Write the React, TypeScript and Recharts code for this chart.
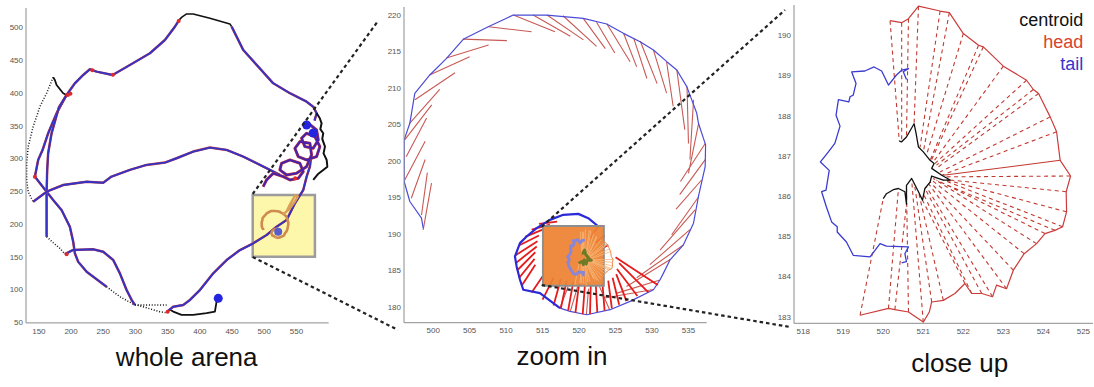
import React from 'react';
import { ComposedChart, Line, XAxis, YAxis, ReferenceArea, Scatter } from 'recharts';

type Pt = [number, number];
type Seg = [number, number, number, number];

const FONT = '"Liberation Sans", Arial, Helvetica, sans-serif';

// ---- panel 1: whole arena ----
const P1_X_TICKS = [150, 200, 250, 300, 350, 400, 450, 500, 550];
const P1_Y_TICKS = [50, 100, 150, 200, 250, 300, 350, 400, 450, 500];

const P1_TOP_ARC: Pt[] = [[193.0, 397.2], [205.9, 415.0], [218.8, 427.7], [229.2, 436.4], [239.6, 432.8], [264.5, 427.7], [291.3, 443.0], [322.4, 460.9], [345.7, 481.2], [361.2, 501.5], [367.9, 511.8]];
const P1_TOP_BLACK: Pt[] = [[367.9, 511.8], [372, 516], [379.4, 520.9], [389.6, 520.9], [415.6, 514.4], [446.6, 505.7], [449.3, 501.5]];
const P1_RIGHT_ARC: Pt[] = [[449.3, 501.5], [457.0, 486.2], [467.3, 465.9], [488.1, 443.0], [513.9, 415.0], [539.8, 399.8], [565.7, 386.9], [575.9, 379.3], [581.3, 369.2], [578, 358]];
const P1_RIGHT_BLACK: Pt[] = [[581.3, 369.2], [586, 362], [589.0, 353.9], [587, 345], [591.5, 338.6], [590, 330], [594.2, 318.2], [592, 308], [596.8, 297.9], [598, 287.6], [591.5, 282.6], [583, 276], [576.0, 267.4]];
const P1_LOOPS: Pt[] = [[568.2, 353.9], [581.2, 343.7], [583.8, 328.5], [576.0, 315.7], [563.0, 318.3], [557.9, 331.0], [565.6, 338.6], [578.6, 333.6], [586.3, 318.3], [581.2, 303.0], [565.6, 297.9], [552.7, 303.0], [547.5, 315.7], [555.3, 325.9], [570.8, 323.4], [573.4, 305.6], [565.6, 287.7], [550.1, 277.6], [534.6, 275.0], [524.2, 282.7], [526.8, 292.8], [539.8, 297.9], [555.3, 292.8], [560.5, 280.1], [552.7, 269.9], [539.8, 267.4], [529.4, 272.5], [513.9, 277.6], [503.5, 267.4], [498.3, 257.2]];
const P1_MID: Pt[] = [[141.1, 234.1], [162.0, 249.4], [187.7, 259.6], [224.1, 264.7], [249.9, 263.1], [262.8, 272.5], [291.3, 282.7], [317.2, 290.3], [345.6, 293.9], [363.8, 300.5], [389.6, 310.7], [415.5, 316.8], [441.4, 313.2], [467.3, 303.0], [493.2, 290.3], [508.7, 282.7], [524.2, 275.0]];
const P1_LEFT_DOTTED: Pt[] = [[172.2, 424.2], [162.0, 399.8], [151.6, 379.3], [141.1, 348.7], [133.4, 318.2], [131, 292.8], [131, 267.3], [133.4, 249.4], [141.1, 234.1]];
const P1_LEFT_BLACK: Pt[] = [[172.2, 424.2], [174.8, 420.1], [177.5, 412.4], [187.7, 399.8], [193, 397.2]];
const P1_LINE_A: Pt[] = [[193, 397.2], [177.5, 369.2], [164.4, 338.6], [155.7, 313.1], [148.9, 297.9], [143.8, 272.3], [162.0, 249.4], [172.2, 236.7], [185.2, 221.4], [198.1, 195.9], [203.3, 172.9], [205.9, 155.3], [211.0, 142.4], [224.1, 127.2], [255.1, 104.2]];
const P1_A_DOTTED: Pt[] = [[255.1, 104.2], [275.8, 89.0], [296.5, 77.8], [317.3, 72], [337.9, 66.0], [348.3, 64.5]];
const P1_LINE_B: Pt[] = [[193, 397.2], [181, 378], [169.7, 338.6], [164.4, 308.1], [162.9, 282.6], [162.0, 249.4], [162.0, 180.6]];
const P1_B_DOTTED: Pt[] = [[162.0, 180.6], [172.2, 171.5], [182.6, 162.9], [190.4, 154.2]];
const P1_LOW: Pt[] = [[190.4, 154.2], [203.3, 160.4], [234.3, 161.4], [249.9, 157.7], [265.4, 145.0], [275.8, 124.7], [286.2, 99.2], [294.0, 84.1], [299.1, 76.3]];
const P1_FLAT_DOTTED: Pt[] = [[299.1, 76.3], [348.3, 76.3]];
const P1_BOTTOM_BLACK: Pt[] = [[352, 70], [358.6, 66.3], [371.5, 61.3], [389.6, 61.3], [410.4, 63.8], [423.3, 66.3], [425.9, 81.6], [428.5, 86.5]];
const P1_BOTTOM_RIGHT: Pt[] = [[348.3, 65.5], [358.6, 73.7], [374.1, 76.3], [384.5, 84.0], [400.0, 99.2], [420.7, 124.7], [441.5, 145.0], [462.2, 160.3], [482.8, 170.6], [503.6, 183.2], [519.1, 195.9], [534.6, 206.1], [547.6, 231.7], [560.5, 252.0], [565.7, 272.3], [570.8, 287.6], [573, 305]];
const P1_BOX_ARMS: Pt[] = [[528, 214], [538, 222], [546, 232], [552, 242], [548, 244], [540, 230], [535, 220]];
const P1_RED_MARKS: Pt[] = [[195, 397], [199, 399], [233, 435], [265, 428], [143.8, 272.3], [193, 154], [367, 510], [350, 66], [548, 270]];
const P1_BLUE_DOTS: Pt[] = [[565.7, 351.3], [575.9, 339], [428.5, 86.5]];
const P1_BOX_BLOB: Pt[] = [[521.6, 188.3]];
const P1_BOX = { x1: 482, x2: 578.6, y1: 150.1, y2: 244.4 };

// ---- panel 2: zoom in ----
const P2_X_TICKS = [500, 505, 510, 515, 520, 525, 530, 535];
const P2_Y_TICKS = [180, 185, 190, 195, 200, 205, 210, 215, 220];

const P2_OUTER: Pt[] = [[498.63, 190.8], [498.4, 192.17], [496.8, 194.45], [496.02, 197.19], [496.02, 202.89], [496.8, 205.17], [497.48, 209.28], [499.54, 211.79], [501.83, 214.07], [504.12, 216.67], [507.55, 218.4], [510.98, 220.0], [515.56, 220.0], [520.59, 219.54], [523.79, 218.77], [526.08, 217.49], [528.37, 216.35], [530.2, 215.21], [532.03, 213.61], [533.4, 212.47], [534.77, 210.19], [536.14, 206.54], [536.37, 205.17], [537.35, 202.21], [537.29, 199.24], [536.37, 195.14], [535.69, 191.49], [534.31, 188.52], [532.48, 186.47], [531.57, 184.64], [531.11, 183.73], [530.2, 182.36], [527.0, 180.77], [524.25, 179.63], [521.05, 178.94], [518.76, 179.4], [517.39, 179.85]];
const P2_INNER: Pt[] = [[517.39, 179.85], [514.64, 181.91], [512.35, 182.36], [511.9, 183.73], [511.44, 185.56], [511.21, 186.93], [511.9, 188.75], [512.81, 189.66], [514.18, 190.8], [516.01, 191.94], [517.84, 192.63], [519.9, 192.76], [521.27, 192.17], [522.65, 191.03]];
const P2_STICKS: Seg[] = [
  [498.63, 190.57, 499.77, 196.96], [498.4, 192.6, 499.2, 198.4], [497.0, 194.9, 498.9, 200.2], [496.1, 197.4, 498.9, 202.7],
  [496.3, 200.6, 499.1, 205.9], [496.1, 202.9, 499.8, 207.7], [496.8, 205.2, 500.9, 209.8], [497.5, 208.4, 503.0, 212.1],
  [499.5, 211.8, 505.0, 214.3], [501.8, 214.1, 507.6, 215.9], [504.1, 216.7, 510.1, 216.5], [507.6, 218.4, 513.5, 217.7],
  [511.0, 220.0, 516.7, 217.7], [513.7, 220.0, 518.8, 217.1], [515.6, 220.0, 520.6, 216.6], [517.8, 219.9, 522.4, 215.7],
  [520.6, 219.5, 523.6, 215.4], [522.4, 219.0, 524.9, 214.8], [523.8, 218.8, 527.0, 213.6], [526.1, 217.5, 527.9, 212.9],
  [527.5, 216.8, 529.3, 211.3], [528.4, 216.4, 530.7, 210.6], [530.2, 215.2, 532.0, 209.3], [532.0, 213.6, 532.9, 207.5],
  [533.4, 212.5, 534.5, 204.3], [534.8, 210.2, 535.0, 202.4], [535.7, 208.4, 535.2, 200.2], [536.4, 205.2, 535.0, 198.3],
  [537.3, 202.4, 533.9, 197.2], [537.3, 200.2, 533.8, 195.4], [536.8, 197.4, 533.3, 193.4], [536.4, 195.1, 532.7, 189.9],
  [535.9, 193.3, 531.1, 187.8], [535.2, 190.6, 529.7, 185.8], [534.3, 188.5, 527.9, 184.0], [532.5, 186.5, 526.5, 182.8],
  [531.1, 183.7, 525.2, 181.9], [530.2, 182.4, 523.3, 181.2], [524.2, 179.6, 522.8, 182.8], [521.0, 178.9, 521.3, 182.5],
  [518.8, 179.4, 519.8, 182.8], [517.4, 179.9, 518.5, 182.8],
];
const P2_INNER_STICKS: Seg[] = [
  [511.3, 187.1, 514.3, 189.0], [511.3, 186.0, 514.2, 188.3], [511.5, 185.0, 514.0, 187.5], [511.8, 184.0, 513.9, 186.6],
  [512.2, 183.0, 514.0, 185.8], [511.9, 188.5, 514.5, 189.8], [512.6, 189.6, 515.0, 190.6], [513.5, 190.6, 516.0, 191.3],
  [514.5, 191.4, 517.0, 191.7], [513.5, 182.0, 515.2, 184.5], [515.0, 181.0, 516.5, 184.0], [516.5, 180.2, 517.5, 183.8],
  [517.5, 179.8, 518.3, 183.6], [518.5, 179.5, 519.2, 183.4], [519.5, 179.2, 520.0, 183.2], [520.5, 179.0, 520.8, 183.0],
  [521.5, 179.0, 521.6, 182.9], [522.5, 179.3, 522.3, 183.0], [523.5, 179.5, 523.2, 183.3], [524.5, 179.8, 524.0, 183.6],
  [525.5, 180.3, 524.6, 184.0], [526.5, 180.8, 525.1, 184.5], [528.0, 181.5, 525.2, 185.2], [529.5, 182.0, 525.5, 186.0],
  [530.8, 183.0, 525.0, 186.8], [522.6, 191.0, 521.5, 189.5], [523.5, 189.8, 522.3, 188.8], [524.0, 188.5, 522.8, 187.8],
];
const P2_BOX = { x1: 515.05, x2: 523.4, y1: 182.9, y2: 191.1 };

// ---- panel 3: close up ----
const P3_X_TICKS = [518, 519, 520, 521, 522, 523, 524, 525];
const P3_Y_TICKS = [183, 184, 185, 186, 187, 188, 189, 190];

const P3_HEAD: Pt[] = [[520.17, 190.36], [520.46, 190.31], [520.63, 190.41], [520.88, 190.72], [521.42, 190.6], [521.65, 190.56], [522.0, 190.04], [522.38, 189.75], [522.5, 189.71], [523.0, 189.23], [523.58, 188.88], [523.75, 188.65], [523.88, 188.55], [524.17, 187.97], [524.33, 187.6], [524.42, 186.89], [524.68, 186.5], [524.57, 186.11], [524.58, 185.61], [524.48, 185.24], [524.29, 185.15], [524.04, 185.07], [523.83, 184.82], [523.52, 184.57], [523.25, 184.16], [523.08, 183.7], [522.83, 183.79], [522.73, 183.5], [522.46, 183.58], [522.21, 183.58], [522.04, 183.83], [521.79, 183.58], [521.5, 183.41], [521.21, 183.37], [521.15, 183.12], [521.0, 182.87], [520.63, 183.12], [520.29, 183.18], [520.13, 183.21], [519.42, 183.04]];
const P3_TAIL: Pt[] = [[520.58, 188.9], [520.5, 189.09], [520.63, 189.17], [520.46, 189.13], [520.33, 189.01], [520.13, 188.76], [519.96, 189.11], [519.77, 189.21], [519.54, 189.11], [519.21, 189.09], [519.32, 188.8], [519.25, 188.51], [519.17, 188.47], [519.14, 188.34], [518.88, 188.4], [518.82, 188.01], [518.92, 187.74], [518.79, 187.31], [518.63, 187.1], [518.43, 186.85], [518.65, 186.64], [518.57, 186.15], [518.46, 186.11], [518.58, 185.73], [518.71, 185.36], [518.85, 185.24], [518.85, 185.11], [519.08, 184.86], [519.25, 184.53], [519.46, 184.51], [519.67, 184.49], [519.92, 184.82], [520.08, 184.76], [520.63, 184.74], [520.54, 184.57], [520.58, 184.37], [520.46, 184.34]];
const P3_CENTROID: Pt[] = [[520.4, 187.37], [520.46, 187.35], [520.58, 187.47], [520.77, 187.8], [520.82, 187.56], [520.88, 187.22], [521.0, 187.1], [521.17, 186.89], [521.27, 186.81], [521.21, 186.69], [521.46, 186.52], [521.67, 186.4], [521.5, 186.4], [521.21, 186.5], [521.17, 186.35], [521.04, 186.19], [520.98, 185.9], [520.88, 186.11], [520.71, 186.44], [520.58, 186.27], [520.58, 185.8], [520.54, 186.11], [520.38, 186.19], [520.25, 186.16], [520.08, 186.06], [520.0, 185.94]];
const P3_SPOKES: Seg[] = [
  [520.17, 190.36, 520.4, 187.37], [520.46, 190.31, 520.46, 187.35], [520.63, 190.41, 520.58, 187.47], [520.88, 190.72, 520.77, 187.8],
  [521.42, 190.6, 520.92, 187.22], [521.65, 190.56, 521.0, 187.1], [522.0, 190.04, 521.08, 187.02], [522.38, 189.75, 521.17, 186.89],
  [522.5, 189.71, 521.21, 186.91], [523.0, 189.23, 521.25, 186.85], [523.58, 188.88, 521.29, 186.81], [523.75, 188.65, 521.33, 186.77],
  [523.88, 188.55, 521.38, 186.73], [524.17, 187.97, 521.42, 186.6], [524.33, 187.6, 521.46, 186.52], [524.68, 186.5, 521.58, 186.48],
  [524.57, 186.11, 521.67, 186.4], [524.58, 185.61, 521.58, 186.4], [524.48, 185.24, 521.5, 186.4], [524.29, 185.15, 521.42, 186.35],
  [524.04, 185.07, 521.33, 186.4], [523.83, 184.82, 521.25, 186.44], [523.52, 184.57, 521.21, 186.4], [523.25, 184.16, 521.17, 186.35],
  [523.08, 183.7, 521.13, 186.31], [522.73, 183.5, 521.08, 186.23], [522.46, 183.58, 521.04, 186.19], [522.21, 183.58, 521.0, 186.06],
  [522.04, 183.83, 520.98, 185.9], [521.5, 183.41, 520.88, 186.11], [521.21, 183.37, 520.79, 186.23], [521.0, 182.87, 520.71, 186.4],
  [520.63, 183.12, 520.58, 186.27], [520.29, 183.18, 520.58, 185.8], [520.13, 183.21, 520.38, 186.19], [519.42, 183.04, 520.0, 185.94],
];
const P3_SOLID_SPOKE: Seg[] = [[524.42, 186.89, 521.5, 186.52]];

// dashed connectors between panels, in page pixels
const CONNECTORS: Pt[][] = [
  [[252.7, 194], [378, 21]],
  [[252.7, 257], [398, 330]],
  [[541.7, 226.7], [785, 10]],
  [[541.7, 285], [790, 327]],
];

const pts = (arr: Pt[]) => arr.map(([x, y]) => ({ x, y }));
const segs = (arr: Seg[]) =>
  arr.flatMap(([x1, y1, x2, y2]) => [{ x: x1, y: y1 }, { x: x2, y: y2 }, { x: x2, y: null }]);

function track(key: string, data: any[], stroke: string, strokeWidth: number, extra: Record<string, unknown> = {}) {
  return (
    <Line
      key={key}
      data={data}
      dataKey="y"
      type="linear"
      stroke={stroke}
      strokeWidth={strokeWidth}
      strokeLinejoin="round"
      dot={false}
      activeDot={false}
      legendType="none"
      isAnimationActive={false}
      {...extra}
    />
  );
}

function dots(key: string, data: Pt[], fill: string, r: number) {
  return (
    <Scatter
      key={key}
      data={pts(data)}
      isAnimationActive={false}
      shape={(p: any) => <circle cx={p.cx} cy={p.cy} r={r} fill={fill} />}
    />
  );
}

const tick = { fontSize: 8, fill: '#555', fontFamily: FONT };
const axisLine = { stroke: '#8c8c8c' };

function axes(xd: [number, number], yd: [number, number], xt: number[], yt: number[], yw: number) {
  return [
    <XAxis key="x" type="number" dataKey="x" domain={xd} ticks={xt} allowDataOverflow tick={tick} tickLine={false} tickSize={4} tickMargin={1} axisLine={axisLine} height={20} />,
    <YAxis key="y" type="number" dataKey="y" domain={yd} ticks={yt} allowDataOverflow tick={tick} tickLine={false} tickSize={3} tickMargin={0} axisLine={axisLine} width={yw} />,
  ];
}

const BLUE = '#3333c6';
const RED = '#c8403c';
const DOTTED = { strokeDasharray: '1 1.8' };

function WholeArena() {
  const blueRed = (k: string, d: Pt[]) => [track(k + 'r', pts(d), RED, 2.5), track(k, pts(d), BLUE, 1.9)];
  return (
    <ComposedChart width={340} height={387} margin={{ top: 8, right: 11.3, bottom: 44.1, left: 0 }}>
      {axes([130, 600], [49, 530], P1_X_TICKS, P1_Y_TICKS, 26)}
      <ReferenceArea {...P1_BOX} fill="#fcf7ab" fillOpacity={1} stroke="#9c9c9c" strokeWidth={2.5} zIndex={50} />
      {blueRed('top', P1_TOP_ARC)}
      {track('topb', pts(P1_TOP_BLACK), '#111', 1.6)}
      {blueRed('right', P1_RIGHT_ARC)}
      {track('rightb', pts(P1_RIGHT_BLACK), '#111', 2)}
      {track('leftd', pts(P1_LEFT_DOTTED), '#111', 1.5, DOTTED)}
      {track('leftb', pts(P1_LEFT_BLACK), '#111', 1.8)}
      {blueRed('a', P1_LINE_A)}
      {track('ad', pts(P1_A_DOTTED), '#111', 1.5, DOTTED)}
      {blueRed('b', P1_LINE_B)}
      {track('bd', pts(P1_B_DOTTED), '#111', 1.5, DOTTED)}
      {blueRed('low', P1_LOW)}
      {track('flat', pts(P1_FLAT_DOTTED), '#111', 1.5, DOTTED)}
      {track('bottomb', pts(P1_BOTTOM_BLACK), '#111', 1.8)}
      {blueRed('mid', P1_MID)}
      {blueRed('br', P1_BOTTOM_RIGHT)}
      {track('loopsr', pts(P1_LOOPS), RED, 3)}
      {track('loops', pts(P1_LOOPS), '#4a22aa', 2.1)}
      {track('spo', pts(P2_OUTER), '#cf8a4e', 2.6)}
      {track('spi', pts(P2_INNER), '#cf8a4e', 2.6)}
      {track('arms', pts(P1_BOX_ARMS), '#d9a055', 2.4)}
      {dots('red', P1_RED_MARKS, '#e02a2a', 2)}
      {dots('blue', P1_BLUE_DOTS, '#2525e0', 4.5)}
      {dots('blob', P1_BOX_BLOB, '#5b5bd0', 4)}
    </ComposedChart>
  );
}

function ZoomIn() {
  return (
    <ComposedChart width={350} height={387} margin={{ top: 7, right: 13.3, bottom: 44.3, left: 0 }}>
      {axes([496, 537.5], [177.85, 221.1], P2_X_TICKS, P2_Y_TICKS, 34)}
      {track('sticks', segs(P2_STICKS), '#c85a55', 1.1)}
      {track('outer', pts(P2_OUTER), '#4b4bd8', 1.2)}
      {track('isticks', segs(P2_INNER_STICKS), '#e61c1c', 1.8)}
      {track('inner', pts(P2_INNER), '#2a2ad8', 2.2)}
      <ReferenceArea {...P2_BOX} fill="#ee8130" fillOpacity={0.92} stroke="#8e8e8e" strokeWidth={2} zIndex={450} />
      {track('mspokes', segs(P3_SPOKES), '#f6b878', 0.8, { zIndex: 460 })}
      {track('mhead', pts(P3_HEAD), '#e88a4a', 1, { zIndex: 460 })}
      {track('mtail', pts(P3_TAIL), '#8686dc', 2.8, { zIndex: 460 })}
      {track('mcent', pts(P3_CENTROID), '#6e7a26', 3, { zIndex: 460 })}
    </ComposedChart>
  );
}

function CloseUp() {
  return (
    <ComposedChart width={334} height={387} margin={{ top: 5, right: 1, bottom: 43.7, left: 0 }}>
      {axes([517.77, 525.24], [182.84, 190.75], P3_X_TICKS, P3_Y_TICKS, 34)}
      {track('spokes', segs(P3_SPOKES), '#c0392f', 1.1, { strokeDasharray: '4 3.5' })}
      {track('solid', segs(P3_SOLID_SPOKE), '#c0392f', 1.1)}
      {track('head', pts(P3_HEAD), '#cc3b3b', 1.2)}
      {track('tail', pts(P3_TAIL), '#3b3bd0', 1.3)}
      {track('cent', pts(P3_CENTROID), '#111', 1.3)}
    </ComposedChart>
  );
}

function Connectors() {
  return (
    <ComposedChart width={1094} height={387} margin={{ top: 0, right: 0, bottom: 0, left: 0 }}>
      <XAxis type="number" dataKey="x" domain={[0, 1094]} allowDataOverflow hide />
      <YAxis type="number" dataKey="y" domain={[0, 387]} allowDataOverflow reversed hide />
      {CONNECTORS.map((c, i) => track('c' + i, pts(c), '#222', 2.2, { strokeDasharray: '3.5 3' }))}
    </ComposedChart>
  );
}

const title = (text: string, cx: number, top: number) => (
  <div
    style={{
      position: 'absolute', left: cx - 100, top, width: 200, textAlign: 'center',
      fontFamily: FONT, fontSize: 26, lineHeight: '26px', color: '#111',
    }}
  >
    {text}
  </div>
);

export default function App() {
  return (
    <div style={{ position: 'absolute', left: 0, top: 0, width: 1094, height: 387, background: '#fff', overflow: 'hidden' }}>
      <div style={{ position: 'absolute', left: 0, top: 0 }}><WholeArena /></div>
      <div style={{ position: 'absolute', left: 370, top: 0 }}><ZoomIn /></div>
      <div style={{ position: 'absolute', left: 760, top: 0 }}><CloseUp /></div>
      <div style={{ position: 'absolute', left: 0, top: 0, pointerEvents: 'none' }}><Connectors /></div>
      <div
        style={{
          position: 'absolute', right: 10.7, top: 8.7, textAlign: 'right',
          fontFamily: FONT, fontSize: 18, lineHeight: '22.3px',
        }}
      >
        <div style={{ color: '#111' }}>centroid</div>
        <div style={{ color: '#d8432e' }}>head</div>
        <div style={{ color: '#3535cc' }}>tail</div>
      </div>
      {title('whole arena', 186.7, 344)}
      {title('zoom in', 562, 342.5)}
      {title('close up', 959.7, 349.5)}
    </div>
  );
}
